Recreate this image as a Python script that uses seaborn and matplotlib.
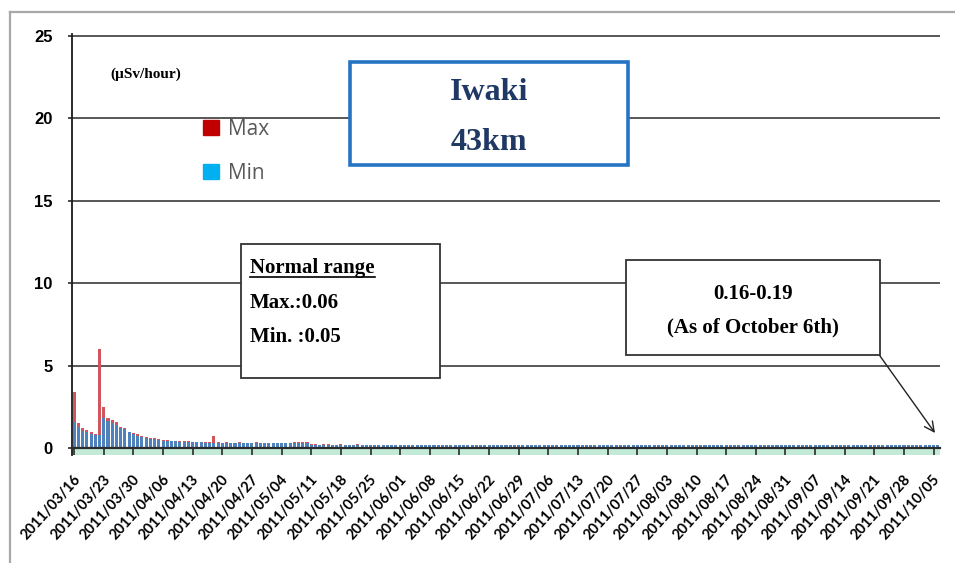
import matplotlib
matplotlib.use('Agg')
import matplotlib.pyplot as plt
import matplotlib.patches as mpatches
from matplotlib.lines import Line2D
from matplotlib.transforms import ScaledTranslation
import numpy as np
import pandas as pd
import seaborn as sns

# ---------------- data (µSv/hour), daily from 2011/03/16 to 2011/10/06 ----------------
max_vals = [
    3.40, 1.50, 1.20, 1.10, 0.95, 0.85, 6.00, 2.50, 1.85, 1.70,
    1.55, 1.30, 1.20, 1.00, 0.92, 0.85, 0.75, 0.68, 0.62, 0.60,
    0.55, 0.50, 0.47, 0.45, 0.43, 0.42, 0.40, 0.40, 0.38, 0.38,
    0.37, 0.36, 0.35, 0.75,
    0.34, 0.33, 0.34, 0.33, 0.33, 0.34, 0.33, 0.33, 0.33, 0.34,
    0.33, 0.33, 0.33, 0.32, 0.33, 0.33, 0.32, 0.33, 0.36, 0.36,
    0.35, 0.36,
    0.22, 0.22, 0.21, 0.22, 0.22, 0.21, 0.21, 0.22, 0.21, 0.21,
    0.21, 0.22, 0.21, 0.21, 0.21, 0.21, 0.20, 0.21, 0.21, 0.21,
    0.20, 0.21, 0.21, 0.20, 0.20, 0.21, 0.20, 0.20, 0.21, 0.20,
    0.20, 0.20, 0.21, 0.20, 0.20, 0.20, 0.20, 0.21, 0.20, 0.20,
    0.20, 0.20, 0.20, 0.21, 0.20, 0.20, 0.20, 0.20, 0.20, 0.20,
    0.21, 0.20, 0.20, 0.20, 0.20, 0.20, 0.20, 0.20, 0.20, 0.20,
    0.20, 0.20, 0.20, 0.20, 0.20, 0.19, 0.20, 0.20, 0.20, 0.20,
    0.20, 0.20, 0.19, 0.20, 0.20, 0.20, 0.20, 0.20, 0.19, 0.20,
    0.20, 0.20, 0.19, 0.20, 0.20, 0.20, 0.20, 0.19, 0.20, 0.20,
    0.19, 0.20, 0.20, 0.20, 0.19, 0.20, 0.19, 0.19, 0.20, 0.20,
    0.20, 0.19, 0.19, 0.20, 0.20, 0.19, 0.19, 0.20, 0.20, 0.19,
    0.19, 0.19, 0.20, 0.20, 0.19, 0.19, 0.19, 0.19, 0.20, 0.19,
    0.19, 0.19, 0.19, 0.20, 0.19, 0.19, 0.19, 0.19, 0.19, 0.20,
    0.19, 0.19, 0.19, 0.19, 0.19, 0.19, 0.19, 0.20, 0.19, 0.19,
    0.19, 0.19, 0.19, 0.19, 0.19, 0.19, 0.19, 0.19, 0.19,
]

min_vals = [
    1.55, 1.30, 1.05, 0.95, 0.85, 0.80, 0.80, 1.85, 1.65, 1.50,
    1.40, 1.20, 1.15, 0.95, 0.85, 0.75, 0.65, 0.60, 0.55, 0.55,
    0.50, 0.45, 0.43, 0.40, 0.40, 0.38, 0.37, 0.36, 0.35, 0.35,
    0.34, 0.33, 0.32, 0.33,
    0.30, 0.29, 0.30, 0.29, 0.29, 0.30, 0.29, 0.29, 0.29, 0.30,
    0.29, 0.29, 0.29, 0.28, 0.29, 0.29, 0.28, 0.29, 0.31, 0.32,
    0.31, 0.31,
    0.18, 0.18, 0.18, 0.18, 0.18, 0.18, 0.18, 0.18, 0.18, 0.18,
    0.18, 0.18, 0.18, 0.17, 0.18, 0.18, 0.17, 0.17, 0.18, 0.17,
    0.17, 0.17, 0.18, 0.17, 0.17, 0.17, 0.17, 0.17, 0.17, 0.17,
    0.17, 0.17, 0.17, 0.17, 0.17, 0.17, 0.17, 0.17, 0.17, 0.17,
    0.17, 0.17, 0.17, 0.17, 0.17, 0.17, 0.17, 0.17, 0.17, 0.17,
    0.17, 0.17, 0.17, 0.17, 0.17, 0.17, 0.16, 0.17, 0.17, 0.17,
    0.17, 0.17, 0.17, 0.16, 0.17, 0.17, 0.17, 0.16, 0.17, 0.17,
    0.17, 0.16, 0.17, 0.17, 0.16, 0.17, 0.17, 0.16, 0.17, 0.16,
    0.16, 0.17, 0.16, 0.17, 0.16, 0.16, 0.17, 0.16, 0.16, 0.17,
    0.16, 0.16, 0.16, 0.16, 0.16, 0.16, 0.16, 0.16, 0.16, 0.16,
    0.16, 0.16, 0.16, 0.16, 0.16, 0.16, 0.16, 0.16, 0.16, 0.16,
    0.16, 0.16, 0.16, 0.16, 0.16, 0.16, 0.16, 0.16, 0.16, 0.16,
    0.16, 0.16, 0.16, 0.16, 0.16, 0.16, 0.16, 0.16, 0.16, 0.16,
    0.16, 0.16, 0.16, 0.16, 0.16, 0.16, 0.16, 0.16, 0.16, 0.16,
    0.16, 0.16, 0.16, 0.16, 0.16, 0.16, 0.16, 0.16, 0.16,
]

tick_labels = [
    "2011/03/16", "2011/03/23", "2011/03/30", "2011/04/06", "2011/04/13",
    "2011/04/20", "2011/04/27", "2011/05/04", "2011/05/11", "2011/05/18",
    "2011/05/25", "2011/06/01", "2011/06/08", "2011/06/15", "2011/06/22",
    "2011/06/29", "2011/07/06", "2011/07/13", "2011/07/20", "2011/07/27",
    "2011/08/03", "2011/08/10", "2011/08/17", "2011/08/24", "2011/08/31",
    "2011/09/07", "2011/09/14", "2011/09/21", "2011/09/28", "2011/10/05",
]
y_ticks = [0, 5, 10, 15, 20, 25]
series_names = ["Max", "Min"]
title_lines = ["Iwaki", "43km"]
unit_text = "(\u00b5Sv/hour)"
normal_lines = ["Normal range", "Max.:0.06", "Min. :0.05"]
latest_lines = ["0.16-0.19", "(As of October 6th)"]

# ---------------- layout helpers (pixel -> figure fraction) ----------------
W, H = 955, 563
fig = plt.figure(figsize=(W / 100, H / 100), dpi=100)
fig.patch.set_facecolor('white')


def fx(x):
    return x / W


def fy(y):
    return 1 - y / H


y_lo, y_hi = -0.45, 25.1
ax_left, ax_right = 72, 940
px_per_unit = (448 - 36) / 25.0
ax_top = 448 - y_hi * px_per_unit
ax_bot = 448 - y_lo * px_per_unit
ax = fig.add_axes([fx(ax_left), fy(ax_bot), (ax_right - ax_left) / W, (ax_bot - ax_top) / H])

df = pd.DataFrame({"day": np.arange(len(max_vals)), "Max": max_vals, "Min": min_vals})

RED = '#d0565b'
BLUE = '#4f81bd'
sns.barplot(data=df, x="day", y="Max", color=RED, width=0.72, errorbar=None,
            saturation=1, linewidth=0, ax=ax)
sns.barplot(data=df, x="day", y="Min", color=BLUE, width=0.72, errorbar=None,
            saturation=1, linewidth=0, ax=ax)

ax.set_ylim(y_lo, y_hi)
ax.set_xlim(-0.5, len(max_vals) - 0.5)
ax.axhspan(y_lo, 0, color='#c3ead7', zorder=0, lw=0)
ax.set_xlabel('')
ax.set_ylabel('')

# grid / spines
ax.set_yticks(y_ticks)
ax.set_yticklabels([str(v) for v in y_ticks])
ax.yaxis.grid(True, color='#4a4a4a', lw=1.3)
ax.xaxis.grid(False)
ax.set_axisbelow(True)
for s in ['top', 'right']:
    ax.spines[s].set_visible(False)
ax.spines['bottom'].set_position(('data', 0))
ax.spines['bottom'].set_color('#2b2b2b')
ax.spines['bottom'].set_linewidth(1.6)
ax.spines['left'].set_color('#1a1a1a')
ax.spines['left'].set_linewidth(1.3)

tick_pos = list(range(0, len(max_vals), 7))[:len(tick_labels)]
ax.set_xticks(tick_pos)
ax.set_xticklabels(tick_labels)
ax.tick_params(axis='x', direction='out', length=5, width=1.2, color='#2b2b2b', pad=1)
ax.tick_params(axis='y', direction='out', length=3, width=1.2, color='#2b2b2b', pad=11)

offset = ScaledTranslation(-1 / 100, -16 / 100, fig.dpi_scale_trans)
for lbl in ax.get_xticklabels():
    lbl.set_rotation(48)
    lbl.set_ha('right')
    lbl.set_va('top')
    lbl.set_rotation_mode('anchor')
    lbl.set_fontfamily(['Lato', 'DejaVu Sans'])
    lbl.set_fontweight('bold')
    lbl.set_fontsize(10.5)
    lbl.set_transform(lbl.get_transform() + offset)
for lbl in ax.get_yticklabels():
    lbl.set_fontfamily(['Liberation Sans Narrow', 'Liberation Sans'])
    lbl.set_fontweight('bold')
    lbl.set_fontsize(12)

# legend
handles = [mpatches.Patch(color='#c00000', label=series_names[0]),
           mpatches.Patch(color='#00b0f0', label=series_names[1])]
leg = fig.legend(handles=handles, loc='upper left', bbox_to_anchor=(fx(203), fy(119)),
                 frameon=False, handlelength=0.75, handleheight=0.75, handletextpad=0.45,
                 labelspacing=1.1, borderpad=0, borderaxespad=0,
                 prop={'family': ['Open Sans', 'DejaVu Sans'], 'size': 15})
for t in leg.get_texts():
    t.set_color('#595959')

# unit label
fig.text(fx(110), fy(74), unit_text, ha='left', va='center', fontsize=11,
         fontweight='bold', family=['Liberation Serif', 'DejaVu Serif'], color='black')

# title box
serif = ['Liberation Serif', 'DejaVu Serif']
fig.add_artist(mpatches.Rectangle((fx(350), fy(165)), (628 - 350) / W, (165 - 62) / H,
                                  transform=fig.transFigure, facecolor='white',
                                  edgecolor='#2574c4', lw=2.6, zorder=5))
fig.text(fx(489), fy(93), title_lines[0], ha='center', va='center', fontsize=23,
         fontweight='bold', family=serif, color='#1f3864', zorder=6)
fig.text(fx(489), fy(143), title_lines[1], ha='center', va='center', fontsize=23,
         fontweight='bold', family=serif, color='#1f3864', zorder=6)

# normal range box
fig.add_artist(mpatches.Rectangle((fx(241), fy(378)), (440 - 241) / W, (378 - 244) / H,
                                  transform=fig.transFigure, facecolor='white',
                                  edgecolor='#333333', lw=1.3, zorder=5))
t_norm = fig.text(fx(250), fy(268), normal_lines[0], ha='left', va='center', fontsize=15,
                  fontweight='bold', family=serif, color='black', zorder=6)
fig.text(fx(250), fy(303), normal_lines[1], ha='left', va='center', fontsize=15,
         fontweight='bold', family=serif, color='black', zorder=6)
fig.text(fx(250), fy(337), normal_lines[2], ha='left', va='center', fontsize=15,
         fontweight='bold', family=serif, color='black', zorder=6)

# latest box
fig.add_artist(mpatches.Rectangle((fx(626), fy(355)), (880 - 626) / W, (355 - 260) / H,
                                  transform=fig.transFigure, facecolor='white',
                                  edgecolor='#333333', lw=1.3, zorder=5))
fig.text(fx(753), fy(294), latest_lines[0], ha='center', va='center', fontsize=15,
         fontweight='bold', family=serif, color='black', zorder=6)
fig.text(fx(753), fy(327), latest_lines[1], ha='center', va='center', fontsize=15,
         fontweight='bold', family=serif, color='black', zorder=6)

# arrow
fig.add_artist(mpatches.FancyArrowPatch((fx(880), fy(356)), (fx(935), fy(433)),
                                        transform=fig.transFigure,
                                        arrowstyle='->,head_length=7,head_width=3.5',
                                        color='#222222', lw=1.0, zorder=6,
                                        shrinkA=0, shrinkB=0))

# outer page frame
fig.add_artist(Line2D([fx(10), fx(955)], [fy(12), fy(12)], color='#a8a8a8', lw=1.6,
                      transform=fig.transFigure))
fig.add_artist(Line2D([fx(10), fx(10)], [fy(12), fy(563)], color='#a8a8a8', lw=1.6,
                      transform=fig.transFigure))

# underline for "Normal range"
fig.canvas.draw()
bb = t_norm.get_window_extent(renderer=fig.canvas.get_renderer())
inv = fig.transFigure.inverted()
(x0, y0), (x1, _) = inv.transform([(bb.x0, bb.y0 + 1), (bb.x1, bb.y0 + 1)])
fig.add_artist(Line2D([x0, x1], [y0, y0], color='black', lw=1.2,
                      transform=fig.transFigure, zorder=6))

fig.savefig('out.png', dpi=100, facecolor='white')
